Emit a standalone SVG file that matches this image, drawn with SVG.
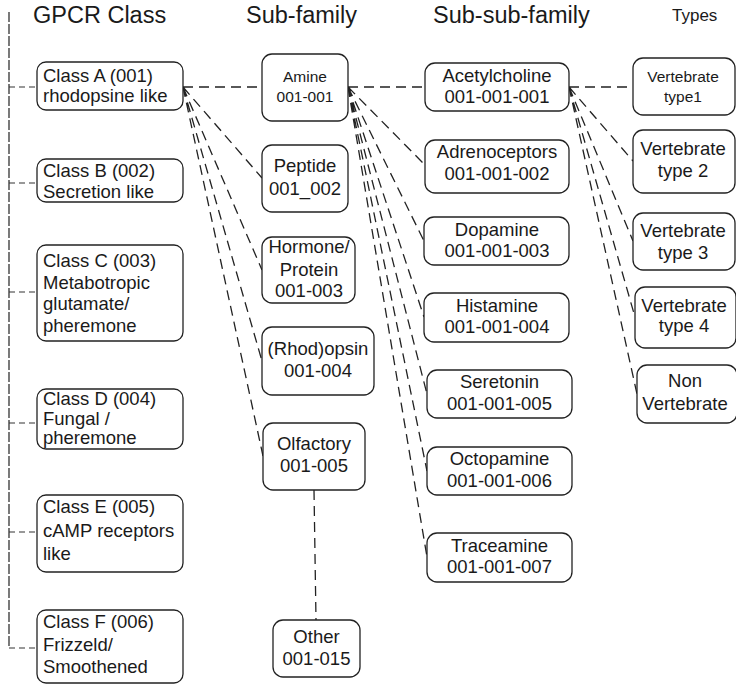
<svg xmlns="http://www.w3.org/2000/svg" width="736" height="686" viewBox="0 0 736 686">
<style>
.bg{fill:#fff}
.box{fill:#fff;stroke:#222;stroke-width:1.3}
.t{font-family:"Liberation Sans",Arial,sans-serif;font-size:18.5px;fill:#1a1a1a}
.s{font-size:15.5px}
.h{font-family:"Liberation Sans",Arial,sans-serif;font-size:23.5px;fill:#1a1a1a}
.c{text-anchor:middle}
.ln{fill:none;stroke:#222;stroke-width:1.3;stroke-dasharray:10 6}
.lg{fill:none;stroke:#333;stroke-width:1.2;stroke-dasharray:6 4}
.lv{fill:none;stroke:#333;stroke-width:1.3;stroke-dasharray:10 2}
</style>
<rect class="bg" x="0" y="0" width="736" height="686"/>
<g id="headers">
<text class="h" x="33" y="23">GPCR Class</text>
<text class="h" x="246" y="23">Sub-family</text>
<text class="h" x="433" y="23">Sub-sub-family</text>
<text class="h" x="672" y="21" style="font-size:17px">Types</text>
</g>
<g id="connectors">
<path class="lv" d="M9 12 V648"/>
<path class="lg" d="M9 87 H37 M9 183 H37 M9 292 H37 M9 423 H37 M9 532 H37 M9 648 H37"/>
<path class="ln" d="M183 87 L262 87 M183 87 L262 178 M183 87 L262 270 M183 87 L262 361 M183 87 L263 456"/>
<path class="ln" d="M314 490 L316 620"/>
<path class="ln" d="M348 87 L425 87 M348 87 L425 165 M348 87 L424 241 M348 87 L424 317 M348 87 L427 394 M348 87 L427 471 M348 87 L427 557"/>
<path class="ln" d="M569 87 L633 87 M569 87 L633 161 M569 87 L633 241 M569 87 L635 317 M569 87 L637 394"/>
</g>
<g id="classA"><rect class="box" x="37" y="62" width="146" height="48" rx="9"/><text class="t" x="43" y="82">Class A (001)</text><text class="t" x="43" y="102">rhodopsine like</text></g>
<g id="classB"><rect class="box" x="37" y="159" width="146" height="43" rx="9"/><text class="t" x="43" y="177">Class B (002)</text><text class="t" x="43" y="198">Secretion like</text></g>
<g id="classC"><rect class="box" x="37" y="245" width="146" height="96" rx="9"/><text class="t" x="43" y="267">Class C (003)</text><text class="t" x="43" y="288.5">Metabotropic</text><text class="t" x="43" y="310">glutamate/</text><text class="t" x="43" y="331.5">pheremone</text></g>
<g id="classD"><rect class="box" x="37" y="389" width="146" height="60" rx="9"/><text class="t" x="43" y="405">Class D (004)</text><text class="t" x="43" y="425">Fungal /</text><text class="t" x="43" y="444">pheremone</text></g>
<g id="classE"><rect class="box" x="37" y="495" width="146" height="77" rx="9"/><text class="t" x="43" y="513">Class E (005)</text><text class="t" x="43" y="536.5">cAMP receptors</text><text class="t" x="43" y="560">like</text></g>
<g id="classF"><rect class="box" x="37" y="610" width="146" height="73" rx="9"/><text class="t" x="43" y="628">Class F (006)</text><text class="t" x="43" y="650.5">Frizzeld/</text><text class="t" x="43" y="673">Smoothened</text></g>
<g id="amine"><rect class="box" x="262" y="54" width="86" height="67" rx="10"/><text class="t s c" x="305" y="82">Amine</text><text class="t s c" x="305" y="102">001-001</text></g>
<g id="peptide"><rect class="box" x="262" y="145" width="86" height="67" rx="10"/><text class="t c" x="305" y="172">Peptide</text><text class="t c" x="305" y="195">001_002</text></g>
<g id="hormone"><rect class="box" x="262" y="237" width="93" height="66" rx="10"/><text class="t c" x="309" y="253">Hormone/</text><text class="t c" x="309" y="276">Protein</text><text class="t c" x="309" y="297">001-003</text></g>
<g id="rhodopsin"><rect class="box" x="262" y="327" width="112" height="68" rx="10"/><text class="t c" x="318" y="355">(Rhod)opsin</text><text class="t c" x="318" y="377">001-004</text></g>
<g id="olfactory"><rect class="box" x="263" y="423" width="102" height="67" rx="10"/><text class="t c" x="314" y="450">Olfactory</text><text class="t c" x="314" y="472">001-005</text></g>
<g id="other"><rect class="box" x="273" y="620" width="87" height="57" rx="10"/><text class="t c" x="316.5" y="643">Other</text><text class="t c" x="316.5" y="665">001-015</text></g>
<g id="acetylcholine"><rect class="box" x="425" y="63" width="144" height="48" rx="10"/><text class="t c" x="497" y="82">Acetylcholine</text><text class="t c" x="497" y="103">001-001-001</text></g>
<g id="adrenoceptors"><rect class="box" x="425" y="140" width="144" height="53" rx="10"/><text class="t c" x="497" y="158">Adrenoceptors</text><text class="t c" x="497" y="180">001-001-002</text></g>
<g id="dopamine"><rect class="box" x="424" y="217" width="145" height="48" rx="10"/><text class="t c" x="497" y="236">Dopamine</text><text class="t c" x="497" y="257">001-001-003</text></g>
<g id="histamine"><rect class="box" x="424" y="293" width="145" height="49" rx="10"/><text class="t c" x="497" y="312">Histamine</text><text class="t c" x="497" y="333">001-001-004</text></g>
<g id="seretonin"><rect class="box" x="427" y="370" width="145" height="48" rx="10"/><text class="t c" x="499.5" y="388">Seretonin</text><text class="t c" x="499.5" y="410">001-001-005</text></g>
<g id="octopamine"><rect class="box" x="427" y="447" width="145" height="48" rx="10"/><text class="t c" x="499.5" y="465">Octopamine</text><text class="t c" x="499.5" y="487">001-001-006</text></g>
<g id="traceamine"><rect class="box" x="427" y="533" width="145" height="49" rx="10"/><text class="t c" x="499.5" y="552">Traceamine</text><text class="t c" x="499.5" y="573">001-001-007</text></g>
<g id="type1"><rect class="box" x="633" y="58" width="102" height="57" rx="10"/><text class="t s c" x="683" y="82">Vertebrate</text><text class="t s c" x="683" y="102">type1</text></g>
<g id="type2"><rect class="box" x="633" y="130" width="102" height="63" rx="10"/><text class="t c" x="683" y="155">Vertebrate</text><text class="t c" x="683" y="177">type 2</text></g>
<g id="type3"><rect class="box" x="633" y="213" width="102" height="57" rx="10"/><text class="t c" x="683" y="237">Vertebrate</text><text class="t c" x="683" y="259">type 3</text></g>
<g id="type4"><rect class="box" x="635" y="287" width="101" height="61" rx="10"/><text class="t c" x="684" y="312">Vertebrate</text><text class="t c" x="684" y="332">type 4</text></g>
<g id="nonvertebrate"><rect class="box" x="637" y="365" width="100" height="58" rx="10"/><text class="t c" x="685" y="387">Non</text><text class="t c" x="685" y="410">Vertebrate</text></g>
</svg>
